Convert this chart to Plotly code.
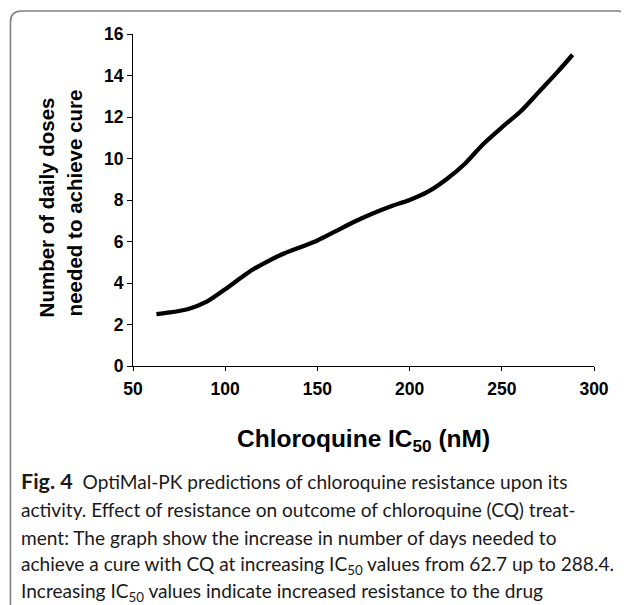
import plotly.graph_objects as go

# ---- data ----
ic50 = [62.7, 70, 80, 90, 100, 110, 115, 120, 130, 140, 150, 160, 170, 180, 190,
        200, 210, 220, 230, 240, 250, 260, 270, 280, 288.4]
doses = [2.5, 2.58, 2.75, 3.1, 3.7, 4.35, 4.65, 4.9, 5.35, 5.7, 6.05, 6.5, 6.95, 7.35, 7.7,
         8.0, 8.4, 9.0, 9.75, 10.7, 11.5, 12.25, 13.2, 14.15, 15.0]
x_ticks = [50, 100, 150, 200, 250, 300]
y_ticks = [0, 2, 4, 6, 8, 10, 12, 14, 16]

# page has an 8px body margin: build the figure 8px smaller and shift coordinates
OFF = 8
W, H = 629 - OFF, 605 - OFF
X0, X1 = 132.7 - OFF, 594.3 - OFF      # plot area left/right (page pixels)
Y0, Y1 = 34 - OFF, 366 - OFF           # plot area top/bottom
L, R, T, B = X0, W - X1, Y0, H - Y1
PW, PH = X1 - X0, Y1 - Y0


def px(xp):
    return (xp - OFF - X0) / PW


def py(yp):
    return (Y1 - (yp - OFF)) / PH


fig = go.Figure()
fig.add_trace(go.Scatter(
    x=ic50, y=doses, mode="lines",
    line=dict(color="black", width=4.3, shape="spline", smoothing=0.8),
    hoverinfo="skip", showlegend=False,
))

axis_font = dict(family="Liberation Sans, Arial, sans-serif", size=17.5,
                 color="black", weight="bold")
fig.update_xaxes(range=[50, 300], tickvals=x_ticks, ticks="outside", ticklen=4,
                 tickwidth=1, tickcolor="black", showline=True, linecolor="black",
                 linewidth=1, showgrid=False, zeroline=False, tickfont=axis_font,
                 ticklabelstandoff=3)
fig.update_yaxes(range=[0, 16], tickvals=y_ticks, ticks="outside", ticklen=5,
                 tickwidth=1, tickcolor="black", showline=True, linecolor="black",
                 linewidth=1, showgrid=False, zeroline=False, tickfont=axis_font)

ann = []
ann.append(dict(x=px(363.5), y=py(440), xref="paper", yref="paper",
                text="<b>Chloroquine IC<sub>50</sub> (nM)</b>", showarrow=False,
                font=dict(family="Liberation Sans, Arial, sans-serif", size=24.5,
                          color="black"),
                xanchor="center", yanchor="middle"))
yt_font = dict(family="Liberation Sans, Arial, sans-serif", size=20.5, color="black")
ann.append(dict(x=px(46), y=py(207), xref="paper", yref="paper",
                text="<b>Number of daily doses</b>", showarrow=False, textangle=-90,
                font=yt_font, xanchor="center", yanchor="middle"))
ann.append(dict(x=px(74), y=py(203), xref="paper", yref="paper",
                text="<b>needed to achieve cure</b>", showarrow=False, textangle=-90,
                font=yt_font, xanchor="center", yanchor="middle"))

caption = [
    "<span style='font-size:21.5px'><b>Fig. 4</b></span>  OptiMal-PK predictions of chloroquine resistance upon its",
    "activity. Effect of resistance on outcome of chloroquine (CQ) treat-",
    "ment: The graph show the increase in number of days needed to",
    "achieve a cure with CQ at increasing IC<sub>50</sub> values from 62.7 up to 288.4.",
    "Increasing IC<sub>50</sub> values indicate increased resistance to the drug",
]
cap_y = [481, 509, 537, 565, 592]
cap_font = dict(family="Lato, Open Sans, sans-serif", size=19.1, color="#1a1a1a")
for t, yy in zip(caption, cap_y):
    ann.append(dict(x=px(19), y=py(yy), xref="paper", yref="paper", text=t,
                    showarrow=False, font=cap_font, xanchor="left", yanchor="middle",
                    align="left"))

# rounded frame around the figure (page pixels)
lft, top, rgt, bot, r = 10, 11, 628.5, 640, 11
path = (f"M {px(lft)},{py(bot)} L {px(lft)},{py(top + r)} "
        f"Q {px(lft)},{py(top)} {px(lft + r)},{py(top)} "
        f"L {px(rgt - r)},{py(top)} Q {px(rgt)},{py(top)} {px(rgt)},{py(top + r)} "
        f"L {px(rgt)},{py(bot)}")

fig.update_layout(
    width=W, height=H, margin=dict(l=L, r=R, t=T, b=B, pad=0),
    paper_bgcolor="white", plot_bgcolor="white",
    annotations=ann,
    shapes=[dict(type="path", path=path, xref="paper", yref="paper",
                 line=dict(color="#808080", width=1.6))],
)

fig.write_html("out.html")
